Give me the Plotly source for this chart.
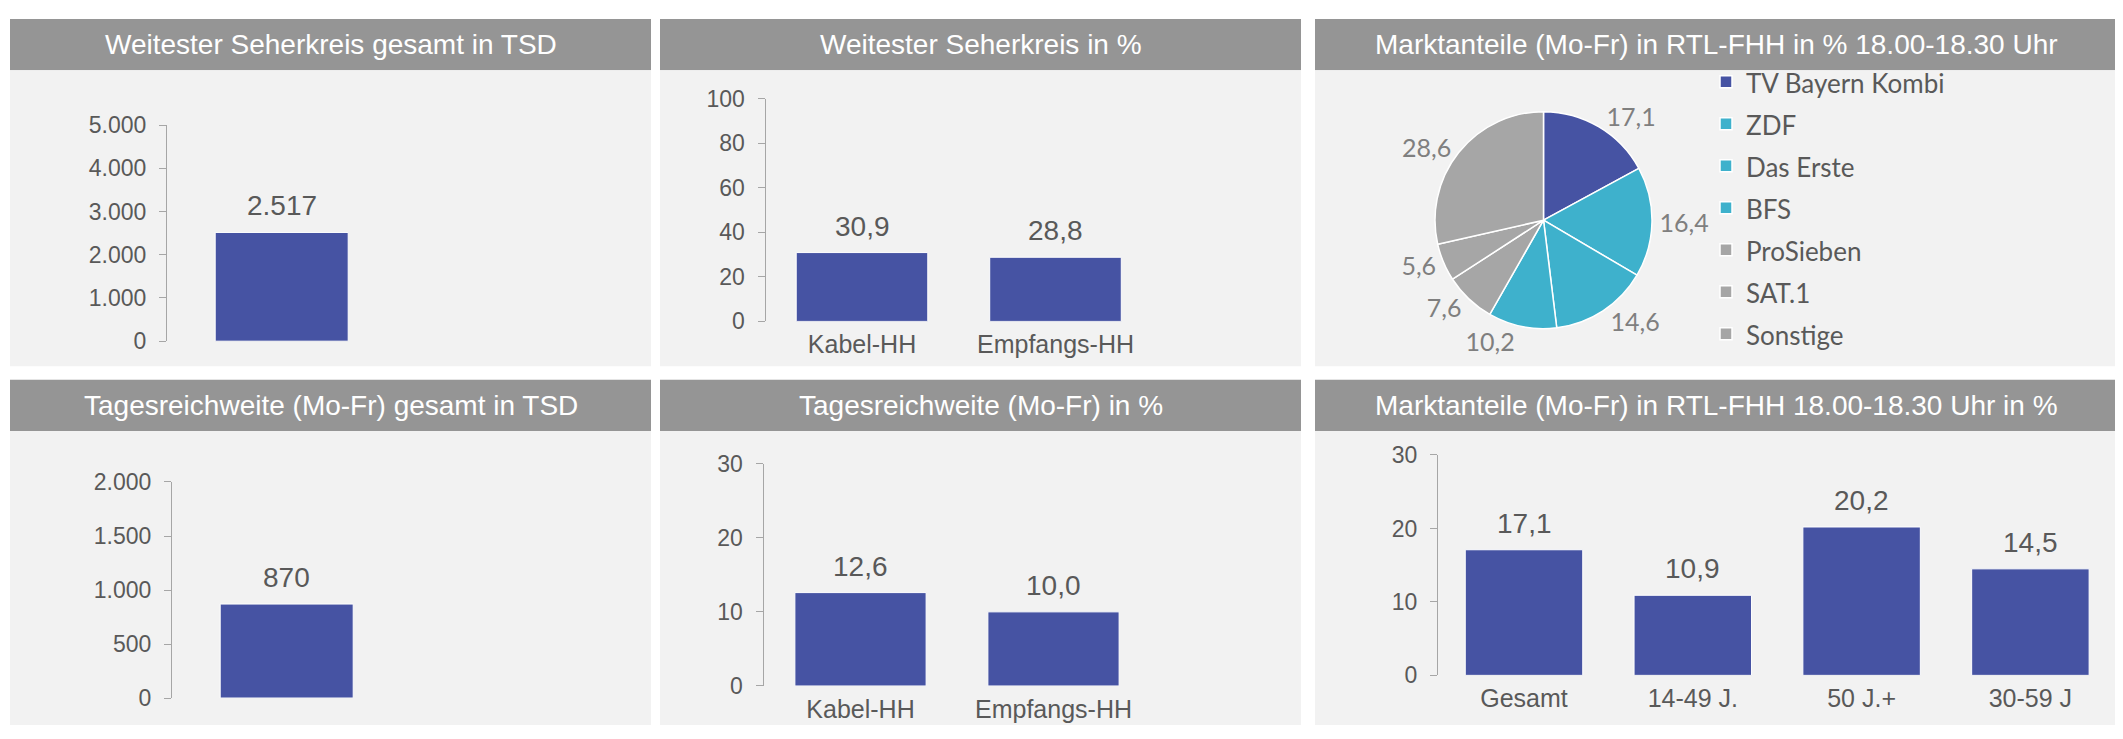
import plotly.graph_objects as go

# the page body keeps its default 8px margin, so the figure is laid out in
# page pixels and shifted back by that margin
PAGE_W, PAGE_H = 2123, 739
OFF = 8
W, H = PAGE_W - OFF, PAGE_H - OFF

BAR_COLOR = "#4653A3"
HEADER_GRAY = "#959595"
PANEL_BG = "#F2F2F2"
TEXT_GRAY = "#595959"
AXIS_GRAY = "#A6A6A6"
BAR_FONT = "Liberation Sans, Arial, sans-serif"
PIE_FONT = "Lato, Calibri, sans-serif"

# --- data -------------------------------------------------------------
single_cat = ["gesamt"]
hh_cats = ["Kabel-HH", "Empfangs-HH"]
age_groups = ["Gesamt", "14-49 J.", "50 J.+", "30-59 J"]

wsk_total = [2517]            # Weitester Seherkreis gesamt in TSD
wsk_pct = [30.9, 28.8]        # Weitester Seherkreis in %
trw_total = [870]             # Tagesreichweite gesamt in TSD
trw_pct = [12.6, 10.0]        # Tagesreichweite in %
age_shares = [17.1, 10.9, 20.2, 14.5]

channels = ["TV Bayern Kombi", "ZDF", "Das Erste", "BFS", "ProSieben", "SAT.1", "Sonstige"]
channel_shares = [17.1, 16.4, 14.6, 10.2, 7.6, 5.6, 28.6]
channel_colors = ["#4653A3", "#3EB1CC", "#3EB1CC", "#3EB1CC", "#A6A6A6", "#A6A6A6", "#A6A6A6"]

wsk_total_ticks = [0, 1000, 2000, 3000, 4000, 5000]
wsk_pct_ticks = [0, 20, 40, 60, 80, 100]
trw_total_ticks = [0, 500, 1000, 1500, 2000]
trw_pct_ticks = [0, 10, 20, 30]
age_ticks = [0, 10, 20, 30]

titles = [
    "Weitester Seherkreis gesamt in TSD",
    "Weitester Seherkreis in %",
    "Marktanteile (Mo-Fr) in RTL-FHH in % 18.00-18.30 Uhr",
    "Tagesreichweite (Mo-Fr) gesamt in TSD",
    "Tagesreichweite (Mo-Fr) in %",
    "Marktanteile (Mo-Fr) in RTL-FHH 18.00-18.30 Uhr in %",
]


def fx(px):
    return (px - OFF) / W


def fy(px):
    return 1 - (px - OFF) / H


def fmt_tsd(v):
    return f"{v:,.0f}".replace(",", ".")


def fmt_pct(v):
    return f"{v:.1f}".replace(".", ",")


# panel boxes (page pixels): columns and rows
cols = [(10, 651), (660, 1301), (1315, 2118)]
rows = [(6, 59, 366), (380, 433, 738)]

# bar panels: data + placement of the plot area in page pixels
bar_panels = [
    dict(cats=single_cat, vals=wsk_total, ticks=wsk_total_ticks, fmt=fmt_tsd,
         left=167, right=640, top=116, zero=340, first=281.7, step=190, width=0.7, labels=False),
    dict(cats=hh_cats, vals=wsk_pct, ticks=wsk_pct_ticks, fmt=fmt_pct,
         left=765.5, right=1290, top=88.5, zero=319.5, first=862, step=193.5, width=0.68, labels=True),
    dict(cats=single_cat, vals=trw_total, ticks=trw_total_ticks, fmt=fmt_tsd,
         left=172, right=645, top=486, zero=710, first=286.7, step=190, width=0.7, labels=False),
    dict(cats=hh_cats, vals=trw_pct, ticks=trw_pct_ticks, fmt=fmt_pct,
         left=763.5, right=1290, top=467, zero=697.5, first=860.5, step=193, width=0.68, labels=True),
    dict(cats=age_groups, vals=age_shares, ticks=age_ticks, fmt=fmt_pct,
         left=1438, right=2110, top=458, zero=686.5, first=1524, step=168.8, width=0.696, labels=True),
]

fig = go.Figure()
shapes = []
annotations = []

for ri, (htop, hbot, bbot) in enumerate(rows):
    for ci, (x0, x1) in enumerate(cols):
        shapes.append(dict(type="rect", xref="paper", yref="paper", layer="below",
                           x0=fx(x0), x1=fx(x1), y0=fy(hbot), y1=fy(htop),
                           fillcolor=HEADER_GRAY, line_width=0))
        shapes.append(dict(type="rect", xref="paper", yref="paper", layer="below",
                           x0=fx(x0), x1=fx(x1), y0=fy(bbot), y1=fy(hbot),
                           fillcolor=PANEL_BG, line_width=0))
        annotations.append(dict(xref="paper", yref="paper", x=fx((x0 + x1) / 2), y=fy((htop + hbot) / 2),
                                text=titles[ri * 3 + ci], showarrow=False,
                                font=dict(family=BAR_FONT, size=28, color="white"),
                                xanchor="center", yanchor="middle"))

layout_axes = {}
for i, p in enumerate(bar_panels, start=1):
    xa = "x" if i == 1 else f"x{i}"
    ya = "y" if i == 1 else f"y{i}"
    fig.add_trace(go.Bar(
        x=p["cats"], y=p["vals"], xaxis=xa, yaxis=ya, width=p["width"],
        marker=dict(color=BAR_COLOR, line=dict(color="white", width=1)),
        hoverinfo="skip", showlegend=False,
    ))
    for c, v in zip(p["cats"], p["vals"]):
        annotations.append(dict(xref=xa, yref=ya, x=c, y=v, text=p["fmt"](v), showarrow=False,
                                yanchor="bottom", yshift=9,
                                font=dict(family=BAR_FONT, size=28, color=TEXT_GRAY)))
    r0 = -(p["first"] - p["left"]) / p["step"]
    r1 = r0 + (p["right"] - p["left"]) / p["step"]
    key = "" if i == 1 else str(i)
    layout_axes[f"xaxis{key}"] = dict(
        domain=[fx(p["left"]), fx(p["right"])], range=[r0, r1], anchor=ya,
        showgrid=False, zeroline=False, showline=False, ticks="",
        showticklabels=p["labels"], ticklabelstandoff=6,
        tickfont=dict(family=BAR_FONT, size=25, color=TEXT_GRAY), fixedrange=True,
    )
    layout_axes[f"yaxis{key}"] = dict(
        domain=[fy(p["zero"]), fy(p["top"])], range=[p["ticks"][0], p["ticks"][-1]], anchor=xa,
        tickvals=p["ticks"], tickformat=",.0f", showgrid=False, zeroline=False,
        showline=True, linecolor=AXIS_GRAY, linewidth=1,
        ticks="outside", ticklen=7, tickcolor=AXIS_GRAY, ticklabelstandoff=8,
        tickfont=dict(family=BAR_FONT, size=23, color=TEXT_GRAY), fixedrange=True,
    )

legend_labels = [f"<span style='font-size:26px'>{c}</span>" for c in channels]

fig.add_trace(go.Pie(
    labels=legend_labels, values=channel_shares, sort=False, direction="clockwise", rotation=0,
    marker=dict(colors=channel_colors, line=dict(color="white", width=1.5)),
    texttemplate="%{value:.1f}", textposition="outside",
    textfont=dict(family=PIE_FONT, size=25, color="#7F7F7F"),
    domain=dict(x=[fx(1431), fx(1656)], y=[fy(327), fy(102)]),
    hoverinfo="skip", showlegend=True,
))

fig.update_layout(
    width=W, height=H, margin=dict(l=0, r=0, t=0, b=0),
    paper_bgcolor="white", plot_bgcolor="rgba(0,0,0,0)",
    separators=",.", bargap=0.3,
    shapes=shapes, annotations=annotations,
    legend=dict(x=fx(1706), y=fy(44), xanchor="left", yanchor="top",
                bgcolor="rgba(0,0,0,0)", itemwidth=30,
                font=dict(family=PIE_FONT, size=30, color=TEXT_GRAY)),
    **layout_axes,
)

fig.write_html("out.html")
